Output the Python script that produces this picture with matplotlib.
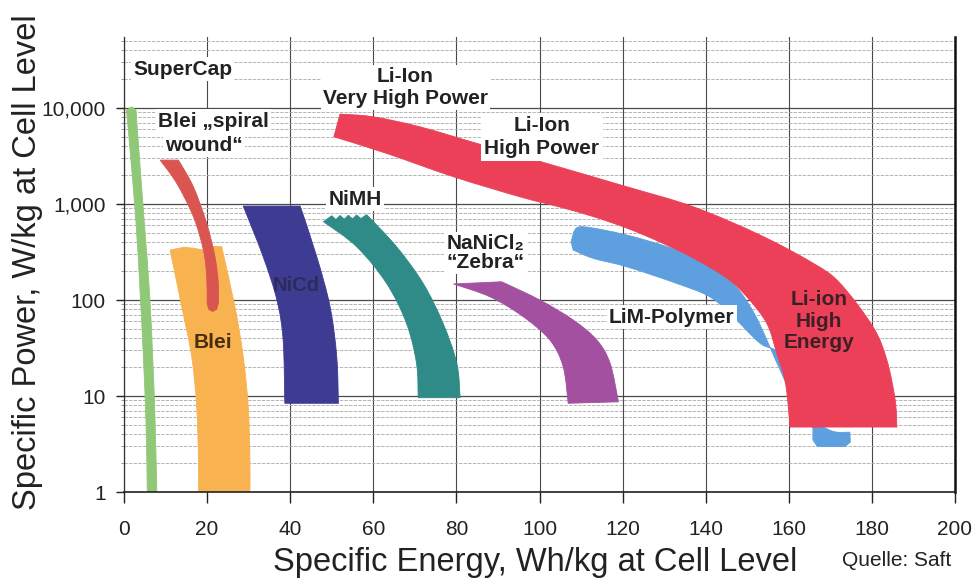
import matplotlib
matplotlib.use("Agg")
import numpy as np
import matplotlib.pyplot as plt
from matplotlib.ticker import NullFormatter, LogLocator
from matplotlib.path import Path
from matplotlib.patches import PathPatch

plt.rcParams['font.family'] = ['Liberation Sans', 'DejaVu Sans']

# ---------------- data ----------------
# Specific energy (Wh/kg) and specific power (W/kg) along the two edges of each band
supercap_left_E = [0.6, 1.6, 2.9, 3.85, 4.65, 5.3, 5.6]
supercap_left_P = [9500, 3100, 630, 127, 26, 5.2, 1]
supercap_right_E = [2.9, 3.7, 4.9, 6.1, 6.9, 7.5, 7.9]
supercap_right_P = [9500, 3100, 630, 127, 26, 5.2, 1]
supercap_top = [(1.85, 10300)]

spiral_left_E = [8.7, 12.7, 16.7, 19.1, 19.9, 20.0]
spiral_left_P = [2870, 1640, 740, 332, 175, 92]
spiral_right_E = [13.1, 16.7, 19.9, 21.9, 22.7, 22.7]
spiral_right_P = [2870, 1513, 629, 282, 149, 92]
spiral_bottom = [(20.4, 80), (21.3, 76), (22.3, 80)]

blei_left_E = [11.1, 13.9, 16.3, 17.5, 17.9, 17.9]
blei_left_P = [332, 85, 25.7, 7.7, 2.3, 1]
blei_right_E = [23.5, 26.7, 28.7, 29.9, 30.3, 30.3]
blei_right_P = [360, 85, 25.7, 7.7, 2.3, 1]
blei_top = [(21.5, 362), (19.5, 330), (17.0, 345), (14.5, 355)]

nicd_left_E = [28.7, 33.5, 36.8, 38.3, 38.7]
nicd_left_P = [953, 282, 100, 38.3, 8.4]
nicd_right_E = [42.4, 46.4, 49.6, 51.2, 51.6]
nicd_right_P = [953, 282, 85, 25.7, 8.4]

nimh_left_E = [48.0, 56.0, 63.2, 68.0, 70.4, 70.8]
nimh_left_P = [655, 359, 149, 57, 21.9, 9.6]
nimh_right_E = [58.4, 65.6, 72.0, 76.8, 80.1, 80.9]
nimh_right_P = [775, 359, 149, 57, 21.9, 9.6]
nimh_top = [(57.0, 705), (56.0, 770), (55.0, 700), (54.0, 765), (53.0, 695),
            (52.0, 760), (51.0, 690), (50.0, 755)]

zebra_lower_E = [79.3, 88.1, 96.1, 102.5, 105.7, 106.9]
zebra_lower_P = [147, 108, 67, 38.3, 20.2, 8.4]
zebra_upper_E = [90.9, 100.1, 108.1, 113.8, 117.0, 119.0]
zebra_upper_P = [155, 100, 62, 38.3, 21.9, 8.7]

liion_upper_E = [52.0, 60.0, 71.2, 84.9, 101.7, 121.0, 137.0, 153.1, 165.9, 172.3, 180.3, 183.6, 185.6, 186.0]
liion_upper_P = [8660, 8110, 6380, 4290, 2655, 1515, 937, 475, 241, 150, 52.3, 23.7, 9.1, 4.75]
liion_lower_E = [50.5, 63.2, 79.3, 95.3, 104.9, 112.9, 121.0, 129.0, 137.0, 145.1, 149.9, 154.7, 157.1, 159.2, 160.3]
liion_lower_P = [5020, 3370, 1925, 1190, 930, 741, 562, 402, 274, 169, 108, 57.2, 27.8, 13.7, 4.75]

limpoly_upper_E = [108.3, 110.5, 121.0, 133.0, 141.0, 146.6, 151.9, 157.9, 162.7, 169.9, 174.7]
limpoly_upper_P = [520, 580, 475, 332, 222, 149, 69.8, 18.7, 7.15, 4.4, 4.2]
limpoly_lower_E = [108.1, 112.9, 121.0, 133.0, 141.0, 146.6, 153.1, 157.7, 160.3, 163.8, 165.8]
limpoly_lower_P = [332, 272, 222, 149, 108, 67, 35.4, 27.8, 13.0, 7.15, 4.6]
limpoly_bottom = [(174.8, 3.3), (173.5, 2.97), (166.9, 2.97), (165.8, 3.48)]
limpoly_top = [(107.6, 405)]

x_ticks = [0, 20, 40, 60, 80, 100, 120, 140, 160, 180, 200]
y_ticks = [1, 10, 100, 1000, 10000]
y_tick_labels = ['1', '10', '100', '1,000', '10,000']


# ---------------- helpers: smooth band outlines ----------------
def _smooth(E, P):
    pts = np.column_stack([np.asarray(E, float), np.log10(np.asarray(P, float))])
    n = len(pts)
    verts = []
    for i in range(n - 1):
        p0 = pts[max(i - 1, 0)]
        p1 = pts[i]
        p2 = pts[i + 1]
        p3 = pts[min(i + 2, n - 1)]
        verts += [p1 + (p2 - p0) / 6.0, p2 - (p3 - p1) / 6.0, p2]
    return pts[0], verts


def band_path(aE, aP, bE, bP, cap_bottom=(), cap_top=()):
    V, C = [], []
    s, segs = _smooth(aE, aP)
    V.append(s); C.append(Path.MOVETO)
    V += segs; C += [Path.CURVE4] * len(segs)
    for e, p in cap_bottom:
        V.append(np.array([e, np.log10(p)])); C.append(Path.LINETO)
    bs, bsegs = _smooth(list(bE)[::-1], list(bP)[::-1])
    V.append(bs); C.append(Path.LINETO)
    V += bsegs; C += [Path.CURVE4] * len(bsegs)
    for e, p in cap_top:
        V.append(np.array([e, np.log10(p)])); C.append(Path.LINETO)
    V.append(s); C.append(Path.CLOSEPOLY)
    V = np.array(V)
    V[:, 1] = 10 ** V[:, 1]
    return Path(V, C)


# ---------------- figure ----------------
W, H = 977, 583
fig = plt.figure(figsize=(W / 100, H / 100), dpi=100)
L, R, T, B = 124, 955, 37, 492
ax = fig.add_axes([L / W, 1 - B / H, (R - L) / W, (B - T) / H])
ax.set_yscale('log')
ax.set_xlim(0, 200)
ax.set_ylim(1, 55000)

bands = [
    ((limpoly_upper_E, limpoly_upper_P, limpoly_lower_E, limpoly_lower_P, limpoly_bottom, limpoly_top), '#5d9fdf', 2),
    ((liion_upper_E, liion_upper_P, liion_lower_E, liion_lower_P, (), ()), '#eb4058', 3),
    ((supercap_left_E, supercap_left_P, supercap_right_E, supercap_right_P, (), supercap_top), '#8fc877', 2),
    ((blei_left_E, blei_left_P, blei_right_E, blei_right_P, (), blei_top), '#f8b24f', 2),
    ((spiral_left_E, spiral_left_P, spiral_right_E, spiral_right_P, spiral_bottom, ()), '#d8564f', 3),
    ((nicd_left_E, nicd_left_P, nicd_right_E, nicd_right_P, (), ()), '#3e3b93', 2),
    ((nimh_left_E, nimh_left_P, nimh_right_E, nimh_right_P, (), nimh_top), '#2f8b87', 2),
    ((zebra_lower_E, zebra_lower_P, zebra_upper_E, zebra_upper_P, (), ()), '#a2509f', 2),
]
for args, c, z in bands:
    ax.add_patch(PathPatch(band_path(*args), facecolor=c, edgecolor=c, lw=0.6,
                           zorder=z, transform=ax.transData))

# grid
ax.set_axisbelow(True)
ax.grid(axis='x', which='major', color='#484848', lw=0.8)
ax.grid(axis='y', which='major', color='#4a4a4a', lw=0.9)
ax.yaxis.set_minor_locator(LogLocator(base=10, subs=range(2, 10)))
ax.yaxis.set_minor_formatter(NullFormatter())
ax.grid(axis='y', which='minor', color='#a8a8a8', lw=0.6, ls=(0, (4, 1.5)))

ax.set_xticks(x_ticks)
ax.set_xticklabels([str(v) for v in x_ticks])
ax.set_yticks(y_ticks)
ax.set_yticklabels(y_tick_labels)
ax.tick_params(axis='x', which='major', length=8, width=1, pad=12, labelsize=15, colors='#222')
ax.tick_params(axis='y', which='major', length=6, width=1, pad=7, labelsize=15, colors='#222')
ax.tick_params(axis='y', which='minor', length=2, width=0.6, colors='#888')

ax.spines['top'].set_visible(False)
ax.spines['left'].set_color('#333')
ax.spines['left'].set_linewidth(0.9)
ax.spines['bottom'].set_color('#222')
ax.spines['bottom'].set_linewidth(1.2)
ax.spines['right'].set_color('#111')
ax.spines['right'].set_linewidth(1.8)

ax.set_xlabel('Specific Energy, Wh/kg at Cell Level', fontsize=23.5, color='#222', va='center')
ax.xaxis.set_label_coords((535 - L) / (R - L), (B - 562) / (B - T))
ax.set_ylabel('Specific Power, W/kg at Cell Level', fontsize=23.5, color='#222', va='center')
ax.yaxis.set_label_coords((28 - L) / (R - L), (B - 262.5) / (B - T))

# labels
box = dict(facecolor='white', edgecolor='none', pad=1.5)
kw = dict(fontsize=15, fontweight='bold', color='#222', zorder=6)
ax.text(14.1, 25500, 'SuperCap', ha='center', va='center', bbox=box, **kw)
ax.text(67.75, 16360, 'Li-Ion\nVery High Power', ha='center', va='center',
        multialignment='center', bbox=box, **kw)
ax.text(8.2, 7330, 'Blei \u201espiral', ha='left', va='center', bbox=box, **kw)
ax.text(9.9, 4120, 'wound\u201c', ha='left', va='center', bbox=box, **kw)
ax.text(55.6, 1127, 'NiMH', ha='center', va='center', bbox=box, **kw)
ax.text(87.1, 309, 'NaNiCl\u2082\n\u201cZebra\u201c', ha='center', va='center',
        multialignment='center', linespacing=1.05, bbox=box, **kw)
ax.text(100.6, 4990, 'Li-Ion\nHigh Power', ha='center', va='center',
        multialignment='center', linespacing=1.25,
        bbox=dict(facecolor='white', edgecolor='none', pad=2.5), **kw)
ax.text(131.8, 66.5, 'LiM-Polymer', ha='center', va='center', bbox=box, **kw)
ax.text(167.3, 60.4, 'Li-ion\nHigh\nEnergy', ha='center', va='center', multialignment='center',
        linespacing=1.15, fontsize=15, fontweight='bold', color='#3d1f26', zorder=6)
ax.text(41.5, 143, 'NiCd', ha='center', va='center', fontsize=14.5, fontweight='bold',
        color='#2c2c5c', zorder=6)
ax.text(21.4, 36.5, 'Blei', ha='center', va='center', fontsize=15, fontweight='bold',
        color='#4a2e12', zorder=6)

fig.text(897 / W, 1 - 560 / H, 'Quelle: Saft', ha='center', va='center', fontsize=15, color='#222')

fig.savefig('out.png', dpi=100)
